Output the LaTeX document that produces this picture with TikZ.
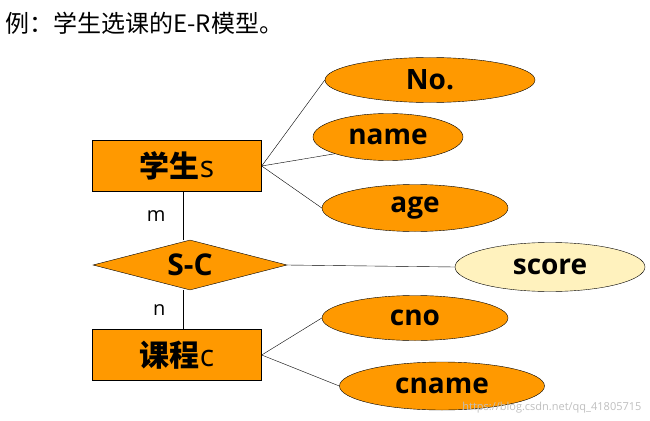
\documentclass[tikz,border=0pt]{standalone}
\usepackage{fontspec}
\setmainfont{Open Sans}
\newfontfamily\cjk{Noto Sans CJK SC}
\usetikzlibrary{shapes.geometric,positioning}
\definecolor{attrfill}{RGB}{255,153,0}
\definecolor{keyfill}{RGB}{255,242,190}
\tikzset{
  ent/.style={draw, fill=attrfill, minimum width=169pt, minimum height=51pt, font=\fontsize{30}{34}\selectfont},
  attr/.style={draw, ellipse, fill=attrfill, inner sep=0pt, font=\fontsize{28}{32}\selectfont\bfseries},
  rel/.style={draw, diamond, fill=attrfill, aspect=3.9, inner sep=0pt, minimum width=194pt, minimum height=50pt, font=\fontsize{30}{34}\selectfont\bfseries},
  card/.style={font=\fontsize{20}{24}\selectfont}
}
\begin{document}
\begin{tikzpicture}[x=1pt,y=-1pt]
  \useasboundingbox (0,0) rectangle (650,420);
  \node[anchor=west, font=\cjk\fontsize{24}{28}\selectfont] (title) at (2,23) {例：学生选课的E-R模型。};

  \node[ent] (student) at (177,166) {{\cjk\bfseries 学生}s};
  \node[rel] (sc) at (190,265) {S-C};
  \node[ent] (course) at (177,355) {{\cjk\bfseries 课程}c};

  \node[attr, minimum width=210pt, minimum height=45pt] (no) at (430,80) {No.};
  \node[attr, minimum width=150pt, minimum height=47pt] (name) at (388,137) {name};
  \node[attr, minimum width=186pt, minimum height=47pt] (age) at (415,208) {age};
  \node[attr, fill=keyfill, minimum width=190pt, minimum height=49pt] (score) at (550,267) {score};
  \node[attr, minimum width=186pt, minimum height=45pt] (cno) at (415,318) {cno};
  \node[attr, minimum width=205pt, minimum height=48pt] (cname) at (442,386) {cname};

  % links
  \coordinate (top) at (183,192);
  \coordinate (bot) at (183,330);
  \draw (student.east) -- (no.west);
  \draw (student.east) -- (name.south west);
  \draw (student.east) -- (age.west);
  \draw (sc.east) -- (score.west);
  \draw (course.east) -- (cno.west);
  \draw (course.east) -- (cname.west);
  \draw (top) -- (top |- sc.north) node[card, midway, left=14pt] {m};
  \draw (bot |- sc.south) -- (bot) node[card, midway, left=14pt] {n};

  \node[anchor=south east, text=black!25, font=\fontsize{11}{12}\selectfont] (mark) at (645,417) {https://blog.csdn.net/qq\_41805715};
\end{tikzpicture}
\end{document}
